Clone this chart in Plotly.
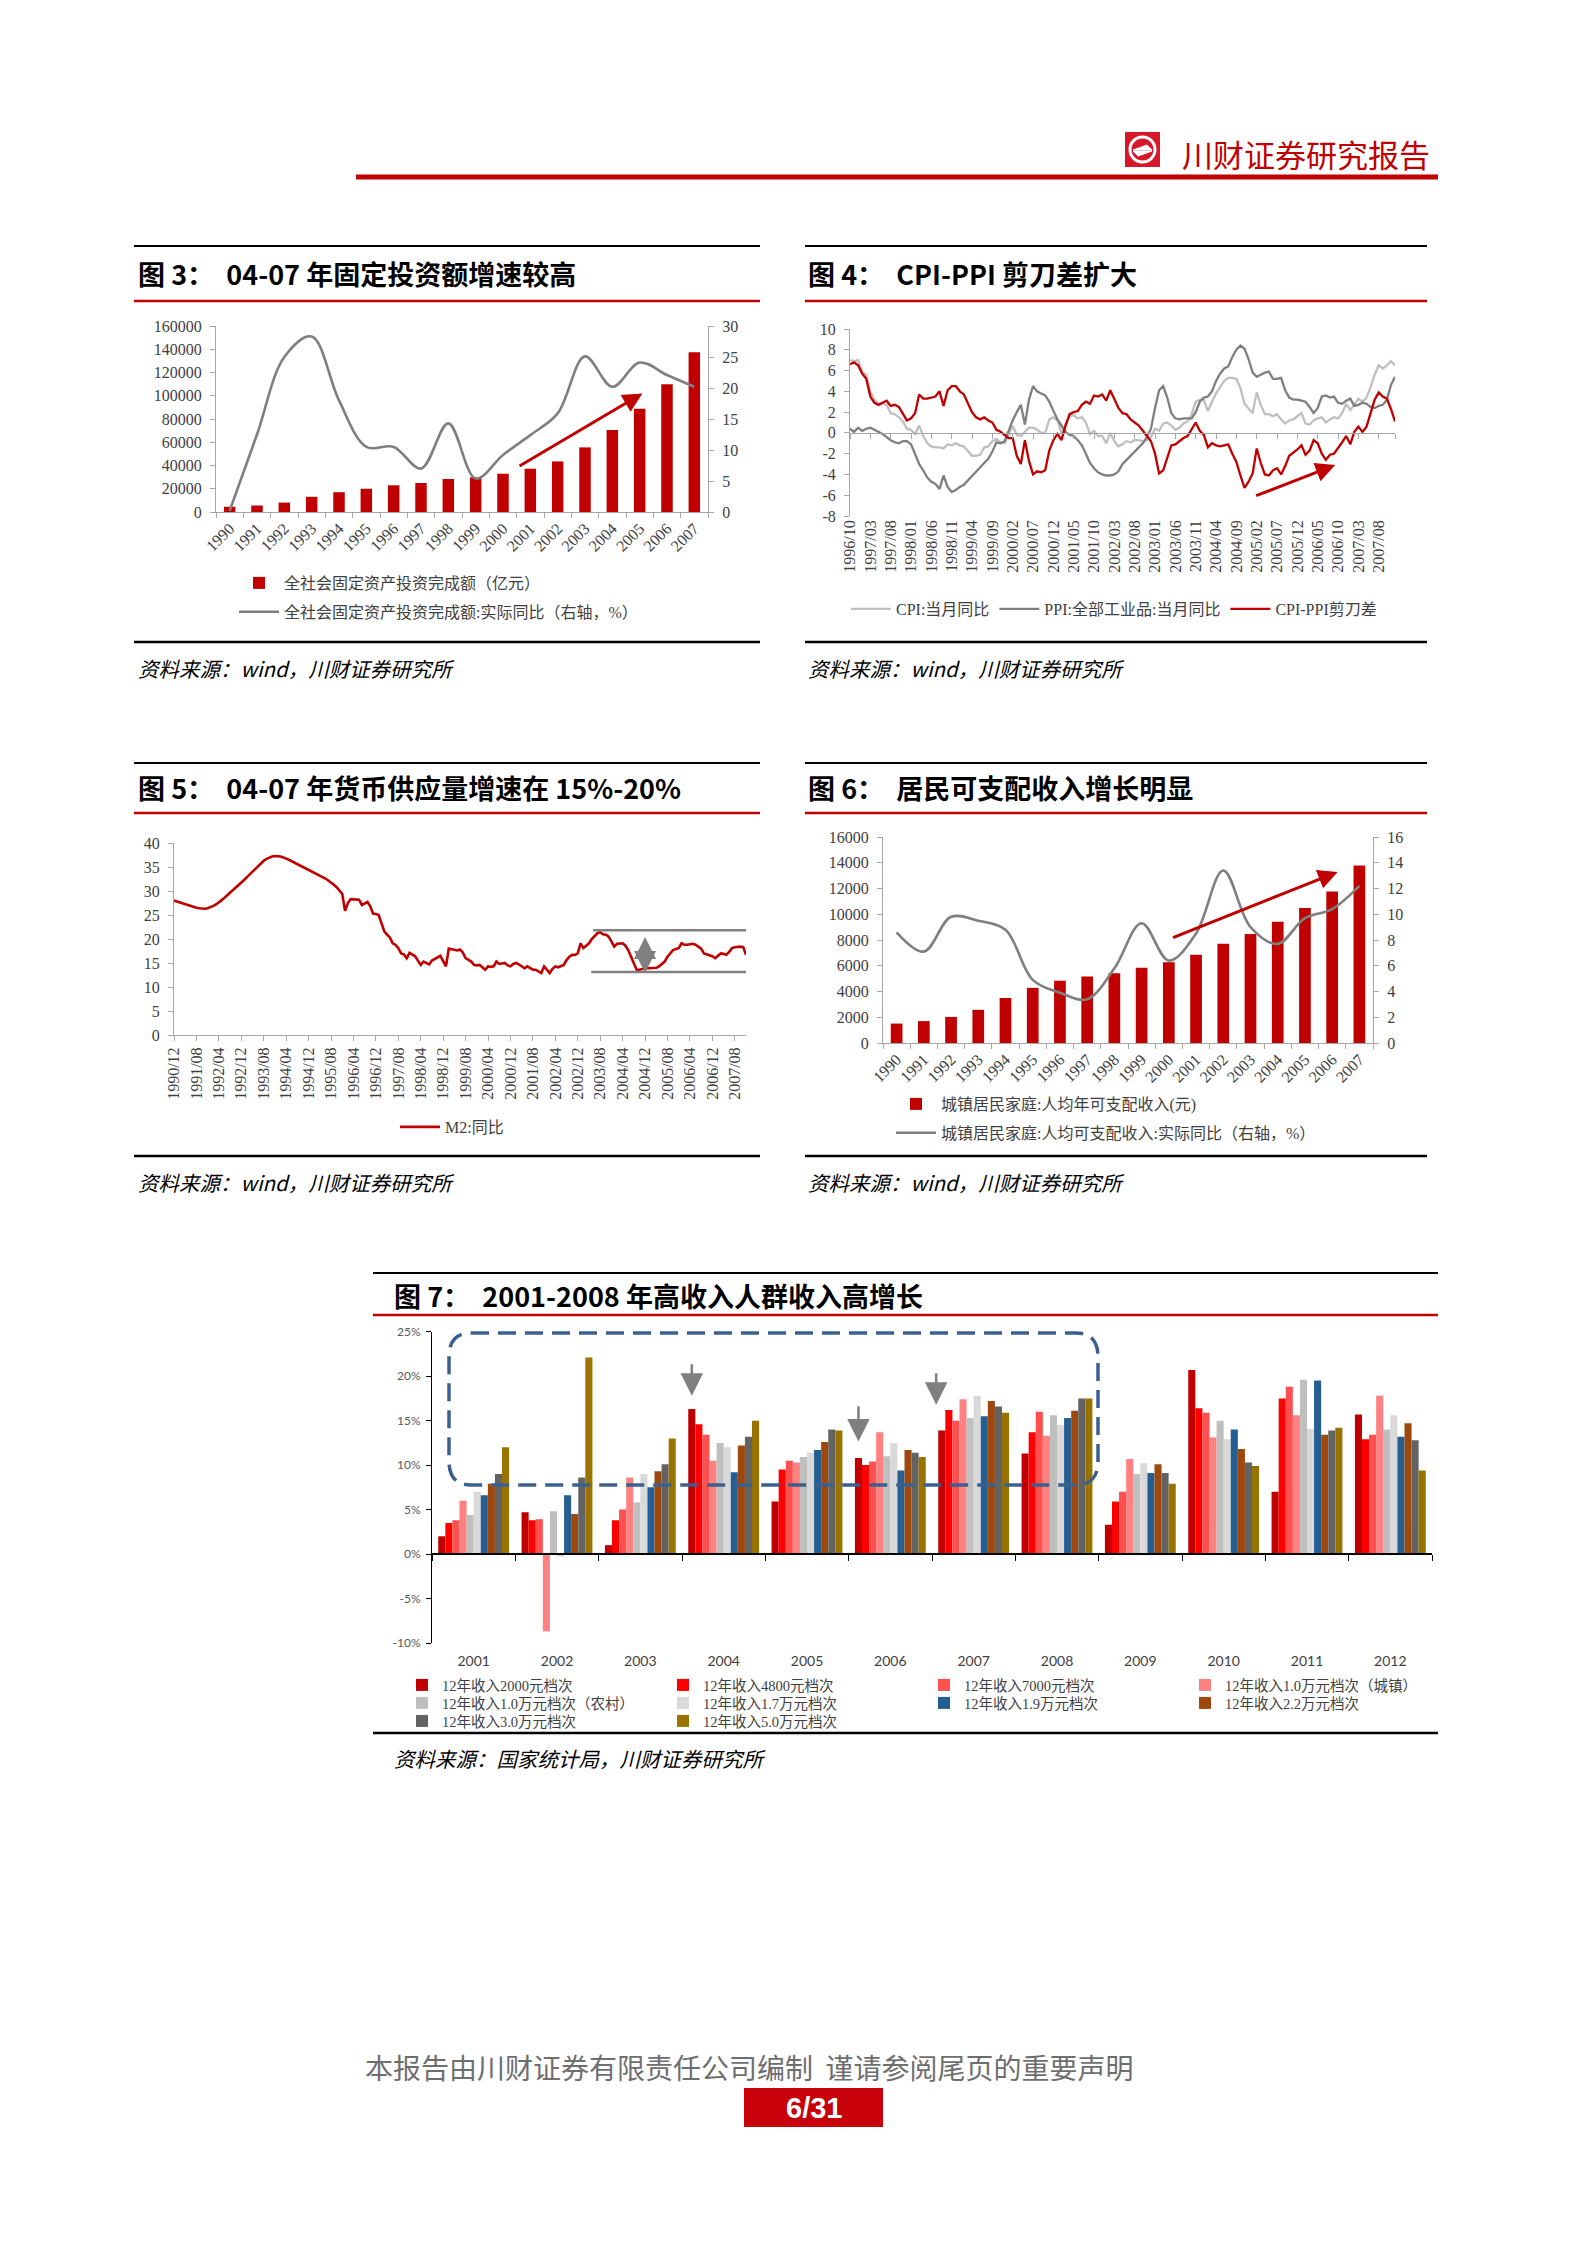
import plotly.graph_objects as go

# ======================= DATA =======================
# Fig 3: fixed-asset investment
years_fai = ["1990", "1991", "1992", "1993", "1994", "1995", "1996", "1997", "1998",
             "1999", "2000", "2001", "2002", "2003", "2004", "2005", "2006", "2007"]
fai_amount = [4517, 5595, 8080, 13072, 17042, 20019, 22974, 24941, 28406,
              29855, 32918, 37214, 43500, 55567, 70477, 88774, 109998, 137324]
fai_real_yoy = [0.2, 12.5, 25.0, 28.3, 18.0, 10.5, 10.5, 7.0, 14.3,
                5.4, 9.2, 12.4, 15.9, 25.1, 20.2, 24.1, 22.1, 20.2]

# Fig 4: CPI / PPI monthly, 1996/10 - 2007/12
months_price = [f"{y}/{m:02d}" for y in range(1996, 2008) for m in range(1, 13) if (y, m) >= (1996, 10)]
cpi_yoy = [7.0, 6.9, 7.0,
           5.9, 5.6, 4.0, 3.2, 2.8, 2.8, 2.7, 1.9, 1.8, 1.5, 1.1, 0.4,
           0.3, -0.1, 0.7, -0.3, -1.0, -1.3, -1.4, -1.4, -1.5, -1.1, -1.2, -1.0,
           -1.2, -1.3, -1.8, -2.2, -2.2, -2.1, -1.4, -1.3, -0.8, -0.6, -0.9, -1.0,
           -0.2, 0.7, -0.2, -0.3, 0.1, 0.5, 0.5, 0.3, 0.0, 0.0, 1.3, 1.5,
           1.2, 0.0, 0.8, 1.6, 1.7, 1.4, 1.5, 1.0, -0.1, 0.2, -0.3, -0.3,
           -1.0, 0.0, -0.8, -1.3, -1.1, -0.8, -0.9, -0.7, -0.7, -0.8, -0.7, -0.4,
           0.4, 0.2, 0.9, 1.0, 0.7, 0.3, 0.5, 0.9, 1.1, 1.8, 3.0, 3.2,
           3.2, 2.1, 3.0, 3.8, 4.4, 5.0, 5.3, 5.3, 5.2, 4.3, 2.8, 2.4,
           1.9, 3.9, 2.7, 1.8, 1.8, 1.6, 1.8, 1.3, 0.9, 1.2, 1.3, 1.6,
           1.9, 0.9, 0.8, 1.2, 1.4, 1.5, 1.0, 1.3, 1.5, 1.4, 1.9, 2.8,
           2.2, 2.7, 3.3, 3.0, 3.4, 4.4, 5.6, 6.5, 6.2, 6.5, 6.9, 6.5]
ppi_yoy = [0.4, 0.1, 0.5,
           0.2, 0.4, 0.5, 0.3, 0.1, -0.1, -0.4, -0.7, -0.9, -1.0, -0.8, -0.8,
           -1.1, -2.0, -3.0, -3.6, -4.3, -4.7, -4.9, -5.4, -4.1, -5.2, -5.7, -5.5,
           -5.2, -5.0, -4.6, -4.2, -3.7, -3.4, -2.9, -2.5, -1.8, -0.9, -1.0, -0.8,
           0.3, 1.2, 2.0, 2.7, 0.8, 3.2, 4.5, 4.0, 3.8, 3.6, 3.0, 2.2,
           1.3, 0.7, 0.1, -0.2, -0.3, -0.7, -1.2, -2.0, -2.9, -3.4, -3.8, -4.0,
           -4.1, -4.1, -4.0, -3.7, -3.0, -2.6, -2.2, -1.7, -1.4, -1.0, -0.4, 0.4,
           2.4, 4.1, 4.5, 3.4, 1.9, 1.4, 1.3, 1.4, 1.4, 1.4, 2.0, 3.0,
           3.4, 3.5, 4.0, 5.0, 5.7, 6.2, 6.4, 7.3, 8.0, 8.4, 8.1, 7.1,
           5.8, 5.4, 5.6, 5.8, 5.9, 5.2, 5.2, 5.3, 4.1, 3.4, 3.2, 3.2,
           3.1, 3.0, 2.5, 1.9, 2.4, 3.5, 3.6, 3.4, 3.5, 2.9, 2.8, 3.1,
           3.3, 2.6, 2.7, 2.9, 2.8, 2.5, 2.4, 2.6, 2.7, 3.2, 4.6, 5.4]
cpi_ppi_gap = [6.6, 6.8, 6.5,
               5.7, 5.2, 3.5, 2.9, 2.7, 2.9, 3.1, 2.6, 2.7, 2.5, 1.9, 1.2,
               1.4, 1.9, 3.7, 3.3, 3.3, 3.4, 3.5, 4.0, 2.6, 4.1, 4.5, 4.5,
               4.0, 3.7, 2.8, 2.0, 1.5, 1.3, 1.5, 1.2, 1.0, 0.3, 0.1, -0.2,
               -0.5, -0.5, -2.2, -3.0, -0.7, -2.7, -4.0, -3.7, -3.8, -3.6, -1.7, -0.7,
               -0.1, -0.7, 0.7, 1.8, 2.0, 2.1, 2.7, 3.0, 2.8, 3.6, 3.5, 3.7,
               3.1, 4.1, 3.2, 2.4, 1.9, 1.8, 1.3, 1.0, 0.7, 0.2, -0.3, -0.8,
               -2.0, -3.9, -3.6, -2.4, -1.2, -1.1, -0.8, -0.5, -0.3, 0.4, 1.0, 0.2,
               -0.2, -1.4, -1.0, -1.2, -1.3, -1.2, -1.1, -2.0, -2.8, -4.1, -5.3, -4.7,
               -3.9, -1.5, -2.9, -4.0, -4.1, -3.6, -3.4, -4.0, -3.2, -2.2, -1.9, -1.6,
               -1.2, -2.1, -1.7, -0.7, -1.0, -2.0, -2.6, -2.1, -2.0, -1.5, -0.9, -0.3,
               -1.1, 0.1, 0.6, 0.1, 0.6, 1.9, 3.2, 3.9, 3.5, 3.3, 2.3, 1.1]
price_ticks = [-8, -6, -4, -2, 0, 2, 4, 6, 8, 10]
price_tick_text = ["-8", "-6", "-4", "-2", "0", "2", "4", "6", "8", "10"]

# Fig 5: M2 yoy monthly, 1990/12 - 2007/12
months_m2 = [f"{y}/{m:02d}" for y in range(1990, 2008) for m in range(1, 13) if (y, m) >= (1990, 12)]
m2_yoy = [28.0,
          27.8, 27.6, 27.4, 27.2, 27.0, 26.8, 26.6, 26.5, 26.4, 26.3, 26.3, 26.4,
          26.6, 26.9, 27.2, 27.6, 28.1, 28.6, 29.1, 29.6, 30.1, 30.6, 31.1, 31.7,
          32.3, 32.9, 33.5, 34.1, 34.7, 35.3, 35.8, 36.3, 36.7, 37.0, 37.2, 37.3,
          37.3, 37.2, 37.0, 36.8, 36.5, 36.2, 35.9, 35.6, 35.3, 35.0, 34.7, 34.5,
          34.2, 33.9, 33.6, 33.3, 33.0, 32.6, 32.2, 31.8, 31.3, 30.8, 30.2, 29.4,
          25.9, 27.5, 28.3, 28.3, 28.3, 28.2, 27.1, 27.4, 27.7, 26.8, 25.3, 25.2,
          25.0, 23.3, 21.6, 20.9, 20.3, 19.1, 18.8, 18.1, 17.0, 16.8, 16.0, 17.1,
          16.8, 16.4, 15.5, 14.6, 15.3, 15.0, 14.7, 15.5, 15.8, 16.1, 16.5, 15.4,
          14.3, 18.0, 17.9, 17.7, 17.6, 17.8, 17.2, 16.0, 15.6, 15.3, 14.6, 14.5,
          14.6, 14.1, 13.6, 14.3, 14.2, 14.3, 15.3, 14.8, 14.9, 15.0, 14.5, 14.3,
          14.8, 15.0, 14.7, 14.3, 13.9, 14.3, 14.0, 13.6, 13.6, 13.2, 12.9, 14.3,
          13.5, 12.9, 13.8, 14.3, 14.1, 14.4, 14.6, 15.6, 16.3, 16.7, 16.7, 17.0,
          19.1, 18.1, 18.6, 19.1, 20.0, 20.6, 21.2, 21.4, 21.0, 20.9, 20.5, 19.5,
          18.4, 19.0, 19.1, 19.1, 18.6, 17.7, 16.3, 15.0, 13.6, 13.6, 13.8, 13.9,
          13.9, 13.9, 13.9, 14.0, 14.3, 14.8, 15.3, 16.3, 16.9, 17.7, 17.9, 18.1,
          19.1, 18.8, 18.8, 18.9, 19.0, 18.8, 18.4, 18.0, 17.0, 16.8, 16.7, 16.4,
          16.0, 16.5, 17.0, 16.9, 16.7, 17.3, 18.1, 18.3, 18.4, 18.4, 18.3, 16.7]

# Fig 6: urban disposable income
years_income = years_fai
urban_income = [1510, 1700, 2027, 2577, 3496, 4283, 4839, 5160, 5425,
                5854, 6280, 6860, 7703, 8472, 9422, 10493, 11759, 13786]
urban_income_real_yoy = [8.6, 7.1, 9.8, 9.5, 8.8, 4.9, 3.9, 3.4, 5.8,
                         9.3, 6.4, 8.5, 13.4, 9.0, 7.7, 9.7, 10.4, 12.2]

# Fig 7: income growth by income bracket (%)
years_bracket = ["2001", "2002", "2003", "2004", "2005", "2006",
                 "2007", "2008", "2009", "2010", "2011", "2012"]
bracket_names = ["12年收入2000元档次", "12年收入4800元档次", "12年收入7000元档次",
                 "12年收入1.0万元档次（城镇）", "12年收入1.0万元档次（农村）", "12年收入1.7万元档次",
                 "12年收入1.9万元档次", "12年收入2.2万元档次", "12年收入3.0万元档次",
                 "12年收入5.0万元档次"]
inc_2000 = [2.0, 4.7, 1.0, 16.3, 5.9, 10.8, 13.9, 11.3, 3.3, 20.7, 7.0, 15.7]
inc_4800 = [3.5, 3.8, 3.8, 14.6, 9.5, 10.0, 16.2, 13.7, 5.9, 16.4, 17.5, 12.9]
inc_7000 = [3.8, 3.9, 5.0, 13.4, 10.5, 10.4, 15.0, 16.0, 7.0, 15.9, 18.8, 13.4]
inc_10k_urban = [6.0, -8.7, 8.6, 10.5, 10.3, 13.7, 17.4, 13.3, 10.7, 13.1, 15.6, 17.8]
inc_10k_rural = [4.4, 4.8, 5.8, 12.5, 10.9, 11.0, 15.3, 15.6, 9.0, 15.0, 19.6, 14.0]
inc_17k = [7.0, -0.3, 9.0, 12.0, 11.4, 12.5, 17.8, 14.5, 10.2, 12.9, 14.1, 15.6]
inc_19k = [6.6, 6.6, 7.5, 9.2, 11.7, 9.4, 15.5, 15.3, 9.1, 14.0, 19.5, 13.2]
inc_22k = [7.9, 4.5, 9.3, 12.2, 12.6, 11.7, 17.2, 16.1, 10.1, 11.8, 13.4, 14.7]
inc_30k = [9.0, 8.6, 10.1, 13.2, 14.0, 11.4, 16.6, 17.5, 9.1, 10.3, 13.9, 12.8]
inc_50k = [12.0, 22.1, 13.0, 15.0, 13.9, 10.9, 15.9, 17.5, 7.9, 9.9, 14.2, 9.4]
bracket_values = [inc_2000, inc_4800, inc_7000, inc_10k_urban, inc_10k_rural,
                  inc_17k, inc_19k, inc_22k, inc_30k, inc_50k]
bracket_ticks = [-10, -5, 0, 5, 10, 15, 20, 25]
bracket_tick_text = ["-10%", "-5%", "0%", "5%", "10%", "15%", "20%", "25%"]

# ======================= STYLE =======================
OFF = 8                      # default body margin of the html page
FW, FH = 1586 - 2 * OFF, 2244 - 2 * OFF


def X(px):
    return (px - OFF) / FW


def Y(py):
    return 1 - (py - OFF) / FH


SERIF = "Liberation Serif, Noto Sans CJK SC"
CJK = "Noto Sans CJK SC"
SANS = "Lato, Liberation Sans, Noto Sans CJK SC"
RED = "#C00000"
AX = "#A6A6A6"
TXT = "#404040"
bracket_colors = ["#C00000", "#FF0000", "#FF5050", "#FF8080", "#BFBFBF",
                  "#D9D9D9", "#255E91", "#9E480E", "#636363", "#997300"]
bracket_legends = ["legend5", "legend6", "legend7"]   # one legend per legend row

tick_serif = dict(family=SERIF, size=16, color=TXT)
leg_font = dict(family=SERIF, size=16, color=TXT)

fig = go.Figure()

# ---------- Fig 3 ----------
fig.add_trace(go.Bar(x=years_fai, y=fai_amount, width=0.42, marker=dict(color=RED, line=dict(width=0)),
                     name="全社会固定资产投资完成额（亿元）", legend="legend", legendgroup="f3a",
                     xaxis="x", yaxis="y"))
fig.add_trace(go.Scatter(x=years_fai, y=fai_real_yoy, mode="lines",
                         line=dict(color="#7F7F7F", width=2.6, shape="spline", smoothing=1.0),
                         name="全社会固定资产投资完成额:实际同比（右轴，%）", legend="legend", legendgroup="f3b",
                         xaxis="x", yaxis="y2"))

# ---------- Fig 4 ----------
fig.add_trace(go.Scatter(x=months_price, y=cpi_yoy, mode="lines", line=dict(color="#BFBFBF", width=2.3),
                         name="CPI:当月同比", legend="legend2", xaxis="x2", yaxis="y3"))
fig.add_trace(go.Scatter(x=months_price, y=ppi_yoy, mode="lines", line=dict(color="#7F7F7F", width=2.3),
                         name="PPI:全部工业品:当月同比", legend="legend2", xaxis="x2", yaxis="y3"))
fig.add_trace(go.Scatter(x=months_price, y=cpi_ppi_gap, mode="lines", line=dict(color=RED, width=2.3),
                         name="CPI-PPI剪刀差", legend="legend2", xaxis="x2", yaxis="y3"))
fig.add_trace(go.Scatter(x=months_price, y=[0] * len(months_price), mode="lines", opacity=0,
                         showlegend=False, hoverinfo="skip", xaxis="x7", yaxis="y3"))

# ---------- Fig 5 ----------
fig.add_trace(go.Scatter(x=months_m2, y=m2_yoy, mode="lines", line=dict(color=RED, width=2.6),
                         name="M2:同比", legend="legend3", xaxis="x3", yaxis="y4"))

# ---------- Fig 6 ----------
fig.add_trace(go.Bar(x=years_income, y=urban_income, width=0.43, marker=dict(color=RED, line=dict(width=0)),
                     name="城镇居民家庭:人均年可支配收入(元)", legend="legend4", legendgroup="f6a",
                     xaxis="x4", yaxis="y5"))
fig.add_trace(go.Scatter(x=years_income, y=urban_income_real_yoy, mode="lines",
                         line=dict(color="#7F7F7F", width=2.6, shape="spline", smoothing=1.0),
                         name="城镇居民家庭:人均可支配收入:实际同比（右轴，%）", legend="legend4", legendgroup="f6b",
                         xaxis="x4", yaxis="y6"))

# ---------- Fig 7 ----------
for i, (name, vals, col) in enumerate(zip(bracket_names, bracket_values, bracket_colors)):
    fig.add_trace(go.Bar(x=years_bracket, y=vals, name=name, marker=dict(color=col, line=dict(width=0)),
                         legend=bracket_legends[i // 4], xaxis="x5", yaxis="y7"))
fig.add_trace(go.Scatter(x=years_bracket, y=[0] * len(years_bracket), mode="lines", opacity=0,
                         showlegend=False, hoverinfo="skip", xaxis="x6", yaxis="y7"))

common = dict(showgrid=False, zeroline=False, showline=True, linecolor=AX, linewidth=1,
              ticks="outside", ticklen=5, tickcolor=AX)

zero4 = 329 + (10 / 18) * (516 - 329)
zero7 = 1331.7 + (25 / 35) * (1643 - 1331.7)

leg7 = dict(yanchor="middle", xanchor="left", orientation="h",
            font=dict(family=SERIF, size=14.5, color=TXT), bgcolor="rgba(0,0,0,0)",
            itemwidth=30, entrywidth=216, entrywidthmode="pixels")

fig.update_layout(
    width=FW, height=FH, autosize=False,
    margin=dict(l=0, r=0, t=0, b=0, pad=0, autoexpand=False),
    paper_bgcolor="white", plot_bgcolor="rgba(0,0,0,0)",
    barmode="group", bargap=0.15, bargroupgap=0,
    hovermode=False,
    # Fig 3
    xaxis=dict(domain=[X(216), X(708)], anchor="y", type="category", tickangle=-45,
               tickson="boundaries", tickfont=tick_serif, automargin=False, **common),
    yaxis=dict(domain=[Y(512), Y(326)], anchor="x", range=[0, 160000], dtick=20000, tickformat="d",
               tickfont=tick_serif, automargin=False, ticklabelstandoff=5, **common),
    yaxis2=dict(overlaying="y", side="right", anchor="x", range=[0, 30], dtick=5,
                tickfont=tick_serif, automargin=False, ticklabelstandoff=5, **common),
    # Fig 4
    xaxis2=dict(domain=[X(850), X(1395)], anchor="y3", type="category", range=[0, len(months_price) - 1],
                tickmode="array", tickvals=months_price[::5], ticktext=months_price[::5], automargin=False,
                tickangle=-90, ticks="", showline=False, showgrid=False, zeroline=False, tickfont=tick_serif),
    xaxis7=dict(overlaying="x2", anchor="free", position=Y(zero4), type="category",
                range=[0, len(months_price) - 1], tickmode="array", automargin=False,
                tickvals=months_price[::5] + [months_price[-1]], showticklabels=False, **common),
    yaxis3=dict(domain=[Y(516), Y(329)], anchor="x2", range=[-8, 10], tickmode="array", automargin=False,
                tickvals=price_ticks, ticktext=price_tick_text, tickfont=tick_serif,
                ticklabelstandoff=5, **common),
    # Fig 5
    xaxis3=dict(domain=[X(174), X(746)], anchor="y4", type="category", range=[0, len(months_m2) - 1],
                tickmode="array", tickvals=months_m2[::8], ticktext=months_m2[::8], automargin=False,
                tickangle=-90, tickfont=tick_serif, **common),
    yaxis4=dict(domain=[Y(1035), Y(843)], anchor="x3", range=[0, 40], dtick=5, tickfont=tick_serif,
                automargin=False, ticklabelstandoff=5, **common),
    # Fig 6
    xaxis4=dict(domain=[X(883), X(1373)], anchor="y5", type="category", tickangle=-45,
                tickson="boundaries", tickfont=tick_serif, automargin=False, **common),
    yaxis5=dict(domain=[Y(1043), Y(837)], anchor="x4", range=[0, 16000], dtick=2000, tickformat="d",
                tickfont=tick_serif, automargin=False, ticklabelstandoff=5, **common),
    yaxis6=dict(overlaying="y5", side="right", anchor="x4", range=[0, 16], dtick=2,
                tickfont=tick_serif, automargin=False, ticklabelstandoff=5, **common),
    # Fig 7
    xaxis5=dict(domain=[X(432), X(1432)], anchor="y7", type="category", range=[-0.5, 11.5],
                ticks="", showline=False, showgrid=False, zeroline=False, ticklabelstandoff=8,
                automargin=False, tickfont=dict(family=SANS, size=14, color=TXT)),
    xaxis6=dict(overlaying="x5", anchor="free", position=Y(zero7), type="category", range=[-0.5, 11.5],
                tickson="boundaries", showticklabels=False, showgrid=False, zeroline=False,
                showline=True, linecolor="#000000", linewidth=1.5, ticks="outside", ticklen=6,
                tickcolor="#000000", automargin=False),
    yaxis7=dict(domain=[Y(1643), Y(1331.7)], anchor="x5", range=[-10, 25], tickmode="array",
                tickvals=bracket_ticks, ticktext=bracket_tick_text, showgrid=False, zeroline=False,
                showline=True, linecolor="#000000", ticks="outside", ticklen=5, tickcolor="#000000",
                automargin=False, ticklabelstandoff=3, tickfont=dict(family=SANS, size=12, color="#595959")),
    # legends
    legend=dict(x=X(234), y=Y(566), xanchor="left", yanchor="top", orientation="v", font=leg_font,
                bgcolor="rgba(0,0,0,0)", traceorder="grouped", tracegroupgap=5, itemwidth=40),
    legend2=dict(x=X(846), y=Y(609), xanchor="left", yanchor="middle", orientation="h", font=leg_font,
                 bgcolor="rgba(0,0,0,0)", itemwidth=40),
    legend3=dict(x=X(452), y=Y(1127), xanchor="center", yanchor="middle", orientation="h", font=leg_font,
                 bgcolor="rgba(0,0,0,0)", itemwidth=40),
    legend4=dict(x=X(891), y=Y(1087), xanchor="left", yanchor="top", orientation="v", font=leg_font,
                 bgcolor="rgba(0,0,0,0)", traceorder="grouped", tracegroupgap=5, itemwidth=40),
    legend5=dict(x=X(402), y=Y(1685), **leg7),
    legend6=dict(x=X(402), y=Y(1703), **leg7),
    legend7=dict(x=X(402), y=Y(1721), **leg7),
)

shapes = []


def hline(x0, x1, y, color, w):
    shapes.append(dict(type="line", xref="paper", yref="paper", x0=X(x0), x1=X(x1), y0=Y(y), y1=Y(y),
                       line=dict(color=color, width=w)))


# header
hline(356, 1438, 177, RED, 5)
shapes.append(dict(type="rect", xref="paper", yref="paper", x0=X(1125), x1=X(1160), y0=Y(167), y1=Y(132),
                   fillcolor="#D7182A", line=dict(width=0)))
shapes.append(dict(type="circle", xref="paper", yref="paper", x0=X(1130), x1=X(1155), y0=Y(162), y1=Y(137),
                   line=dict(color="white", width=3)))
shapes.append(dict(type="path", xref="paper", yref="paper",
                   path=f"M {X(1133)},{Y(150)} L {X(1152)},{Y(150)} L {X(1147)},{Y(145)} Z "
                        f"M {X(1152)},{Y(151)} L {X(1133)},{Y(151)} L {X(1138)},{Y(156)} Z",
                   fillcolor="white", line=dict(color="white", width=1)))

# panel rules
for (x0, x1, ytop, yred, ybot) in [(134, 760, 246, 301, 642), (805, 1427, 246, 301, 642),
                                   (134, 760, 763, 813, 1156), (805, 1427, 763, 813, 1156),
                                   (373, 1438, 1273, 1315, 1733)]:
    hline(x0, x1, ytop, "#000000", 2)
    hline(x0, x1, yred, RED, 2.5)
    hline(x0, x1, ybot, "#000000", 2.5)

# Fig 5 band lines
shapes.append(dict(type="line", xref="x3", yref="y4", x0=149.5, x1=204.8, y0=21.8, y1=21.8,
                   line=dict(color="#808080", width=2.5)))
shapes.append(dict(type="line", xref="x3", yref="y4", x0=148.8, x1=204.8, y0=13.1, y1=13.1,
                   line=dict(color="#808080", width=2.5)))

# Fig 7 dashed rounded box
L, R, T, B = X(449), X(1098), Y(1333), Y(1485)
rx, ry = 22 / FW, 24 / FH
box_path = (f"M {L + rx},{T} L {R - rx},{T} Q {R},{T} {R},{T - ry} L {R},{B + ry} "
            f"Q {R},{B} {R - rx},{B} L {L + rx},{B} Q {L},{B} {L},{B + ry} L {L},{T - ry} "
            f"Q {L},{T} {L + rx},{T} Z")
shapes.append(dict(type="path", xref="paper", yref="paper", path=box_path,
                   line=dict(color="#3B6090", width=3.5, dash="18px,9px")))

# footer page box
shapes.append(dict(type="rect", xref="paper", yref="paper", x0=X(744), x1=X(883), y0=Y(2127), y1=Y(2088),
                   fillcolor="#C8000A", line=dict(width=0)))

fig.update_layout(shapes=shapes)

ann = []


def text(x, y, s, size, color="#000000", family=CJK, xanchor="left"):
    ann.append(dict(xref="paper", yref="paper", x=X(x), y=Y(y), text=s, showarrow=False,
                    xanchor=xanchor, yanchor="middle", font=dict(family=family, size=size, color=color)))


text(1180, 153, "川财证券研究报告", 31, RED)

titles = [(136, 273, "图 3：  04-07 年固定投资额增速较高"),
          (806, 273, "图 4：  CPI-PPI 剪刀差扩大"),
          (136, 787, "图 5：  04-07 年货币供应量增速在 15%-20%"),
          (806, 787, "图 6：  居民可支配收入增长明显"),
          (392, 1295, "图 7：  2001-2008 年高收入人群收入高增长")]
for x, y, s in titles:
    text(x, y, f"<b>{s}</b>", 27)

sources = [(136, 668, "资料来源：wind，川财证券研究所"),
           (806, 668, "资料来源：wind，川财证券研究所"),
           (136, 1182, "资料来源：wind，川财证券研究所"),
           (806, 1182, "资料来源：wind，川财证券研究所"),
           (392, 1758, "资料来源：国家统计局，川财证券研究所")]
for x, y, s in sources:
    text(x, y, f"<i>{s}</i>", 20.5)

text(749, 2067, "本报告由川财证券有限责任公司编制  谨请参阅尾页的重要声明", 28, "#6E6E6E", xanchor="center")
text(813.5, 2108, "<b>6/31</b>", 29, "white", family="Liberation Sans Narrow, Liberation Sans", xanchor="center")


def arrow(xref, yref, x, y, ax, ay, color, width, size, side="end"):
    ann.append(dict(xref=xref, yref=yref, axref=xref, ayref=yref, x=x, y=y, ax=ax, ay=ay, text="",
                    showarrow=True, arrowhead=2, arrowsize=size, arrowwidth=width, arrowcolor=color,
                    arrowside=side, standoff=0, startstandoff=0))


arrow("x", "y", 15.1, 102000, 10.55, 38800, RED, 3, 1.3)
arrow("x2", "y3", 119.3, -3.1, 99.5, -6.1, RED, 3, 1.3)
arrow("x4", "y5", 16.2, 13290, 10.1, 8130, RED, 3, 1.3)
arrow("x3", "y4", 168, 20.4, 168, 12.6, "#7F7F7F", 4, 1.1, side="end+start")
arrow("x5", "y7", 2.6175, 17.8, 2.6175, 21.5, "#7F7F7F", 2.5, 1.8)
arrow("x5", "y7", 4.6175, 12.65, 4.6175, 16.8, "#7F7F7F", 2.5, 1.8)
arrow("x5", "y7", 5.55, 16.8, 5.55, 20.5, "#7F7F7F", 2.5, 1.8)

fig.update_layout(annotations=ann)

fig.write_html("out.html")
